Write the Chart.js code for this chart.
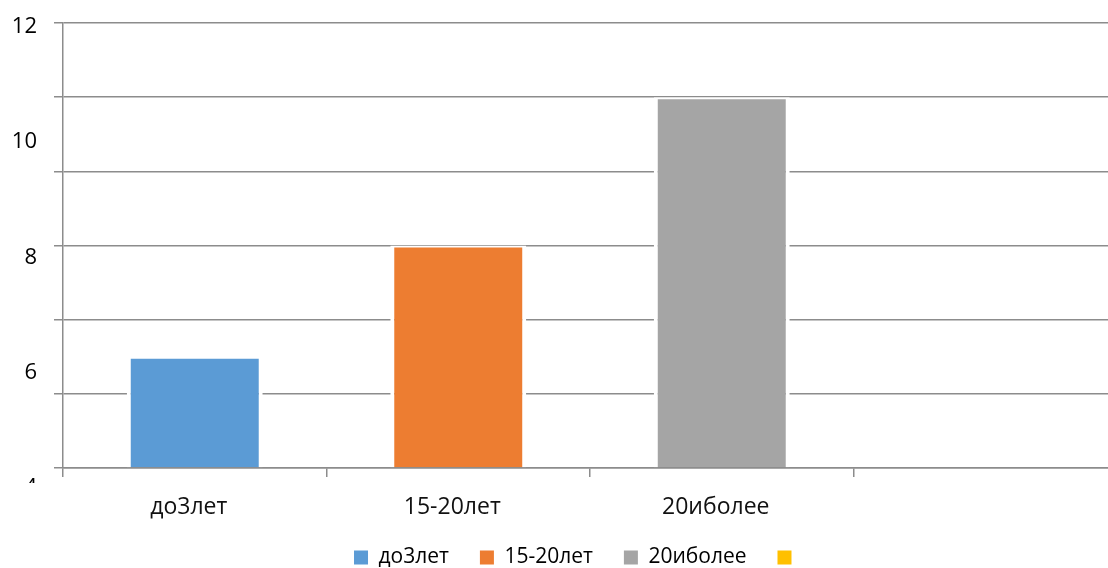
<!DOCTYPE html>
<html>
<head>
<meta charset="utf-8">
<script src="https://cdn.jsdelivr.net/npm/chart.js@4/dist/chart.umd.min.js"></script>
<style>
  html, body { margin: 0; padding: 0; background: #fff; overflow: hidden; }
  #wrap { width: 1120px; height: 568px; }
</style>
</head>
<body>
<div id="wrap"><canvas id="ageChart"></canvas></div>
<script>
// данные диаграммы
const categories = ['до3лет', '15-20лет', '20иболее', ''];
const values = [3, 6, 10, null];
const axisLabels = [4, 6, 8, 10, 12];
const barColors = ['#5B9BD5', '#ED7D31', '#A5A5A5', '#FFC000'];

const fontFamily = "'Open Sans', 'Noto Sans', sans-serif";
const gridColor = '#8c8c8c';

// подпись "4" в оригинале обрезана снизу, легенда чуть сдвинута
const tweaks = {
  id: 'tweaks',
  afterLayout(chart) {
    const lg = chart.legend;
    lg.top -= 4;
    lg.left -= 12;
    lg.right -= 12;
  },
  beforeDraw(chart) {
    const ctx = chart.ctx;
    ctx.save();
    ctx.beginPath();
    ctx.rect(0, 0, chart.width, chart.height);
    ctx.rect(0, chart.chartArea.bottom + 15, chart.chartArea.left - 3, 30);
    ctx.clip('evenodd');
  },
  afterDraw(chart) {
    chart.ctx.restore();
  }
};

const ctx = document.getElementById('ageChart').getContext('2d');
const ageChart = new Chart(ctx, {
  type: 'bar',
  data: {
    labels: categories,
    datasets: [{
      data: values,
      backgroundColor: barColors,
      borderColor: '#ffffff',
      borderWidth: { top: 2, left: 4, right: 4, bottom: 0 },
      borderSkipped: 'start',
      barPercentage: 0.516,
      categoryPercentage: 1,
      yAxisID: 'y'
    }]
  },
  options: {
    responsive: true,
    maintainAspectRatio: false,
    animation: false,
    layout: { padding: { left: 6, right: 3, top: 23, bottom: 0 } },
    scales: {
      x: {
        offset: true,
        grid: { offset: true, drawOnChartArea: false, tickLength: 9, color: gridColor, lineWidth: 1.5 },
        border: { color: gridColor, width: 1.5 },
        ticks: {
          color: '#111',
          font: { size: 23, family: fontFamily },
          padding: 17,
          labelOffset: -6,
          maxRotation: 0,
          autoSkip: false
        },
        afterFit: (s) => { s.height = 52; }
      },
      y: {
        min: 0,
        max: 12,
        weight: 0,
        ticks: { stepSize: 2, display: false },
        grid: { color: gridColor, lineWidth: 1.5, tickLength: 9 },
        border: { color: gridColor, width: 1.5 },
        afterFit: (s) => { s.width = 26; }
      },
      y2: {
        position: 'left',
        min: 4.347,
        max: 12.061,
        weight: 1,
        grid: { display: false, drawTicks: false },
        border: { display: false },
        afterBuildTicks: (s) => { s.ticks = axisLabels.map(v => ({ value: v })); },
        ticks: { color: '#000', font: { size: 22, family: fontFamily }, padding: 0 },
        afterFit: (s) => { s.width = 31; }
      }
    },
    plugins: {
      tooltip: { enabled: false },
      legend: {
        position: 'bottom',
        fullSize: false,
        maxHeight: 48,
        labels: {
          boxWidth: 14,
          boxHeight: 14,
          padding: 31,
          color: '#595959',
          font: { size: 21, family: fontFamily },
          generateLabels: () => categories.map((c, i) => ({
            text: c,
            fillStyle: barColors[i],
            strokeStyle: barColors[i],
            lineWidth: 0,
            hidden: false,
            index: i
          }))
        }
      }
    }
  },
  plugins: [tweaks]
});
</script>
</body>
</html>
